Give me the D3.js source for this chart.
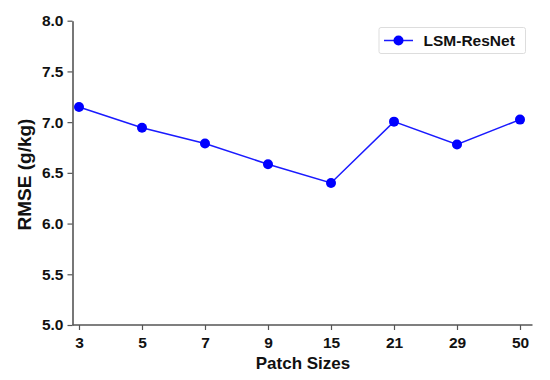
<!DOCTYPE html>
<html>
<head>
<meta charset="utf-8">
<script src="https://cdn.jsdelivr.net/npm/d3@7"></script>
<style>
html,body{margin:0;padding:0;background:#fff;}
svg{display:block;font-family:"Liberation Sans",Arial,sans-serif;}
</style>
</head>
<body>
<svg id="chart" width="550" height="380"></svg>
<script>
const patchSizes = ["3","5","7","9","15","21","29","50"];
const rmse = [7.15, 6.945, 6.79, 6.585, 6.40, 7.005, 6.78, 7.025];
const yTicks = [5.0, 5.5, 6.0, 6.5, 7.0, 7.5, 8.0];
const seriesName = "LSM-ResNet";

(function(){
const svg = d3.select("#chart");
const mLeft = 72.5, mRight = 532.5, mTop = 20.7, mBottom = 325;
const x = d3.scalePoint().domain(patchSizes).range([79, 520]);
const y = d3.scaleLinear().domain([5, 8]).range([mBottom, mTop]);
const axisColor = "#555";

// y axis
const gy = svg.append("g").attr("transform", `translate(${mLeft},0)`)
  .call(d3.axisLeft(y).tickValues(yTicks).tickFormat(d3.format(".1f")).tickSize(5).tickSizeOuter(0));
gy.select(".domain").attr("stroke", axisColor).attr("stroke-width", 1.6);
gy.selectAll(".tick line").attr("stroke", axisColor).attr("stroke-width", 1.2);
gy.selectAll(".tick text").attr("font-size", 15.5).attr("font-weight", "bold").attr("fill", "#111")
  .attr("font-family", "Liberation Sans, Arial, sans-serif").attr("x", -9);

// x axis
const gx = svg.append("g").attr("transform", `translate(0,${mBottom})`)
  .call(d3.axisBottom(x).tickSize(5).tickSizeOuter(0));
gx.select(".domain").attr("d", `M${mLeft},0H${mRight}`).attr("stroke", axisColor).attr("stroke-width", 1.6);
gx.selectAll(".tick line").attr("stroke", axisColor).attr("stroke-width", 1.2);
gx.selectAll(".tick text").attr("font-size", 15.5).attr("font-weight", "bold").attr("fill", "#111")
  .attr("font-family", "Liberation Sans, Arial, sans-serif").attr("y", 11.5);

// axis titles
svg.append("text").attr("x", 303).attr("y", 368.5).attr("text-anchor", "middle")
  .attr("font-size", 17).attr("font-weight", "bold").attr("fill", "#111").text("Patch Sizes");
svg.append("text").attr("transform", `translate(31,174.5) rotate(-90)`)
  .attr("text-anchor", "middle").attr("font-size", 19).attr("font-weight", "bold").attr("fill", "#111")
  .text("RMSE (g/kg)");

// line
const data = patchSizes.map((p, i) => ({p, v: rmse[i]}));
svg.append("path").datum(data)
  .attr("d", d3.line().x(d => x(d.p)).y(d => y(d.v)))
  .attr("fill", "none").attr("stroke", "#1a1aff").attr("stroke-width", 1.5);
svg.selectAll("circle.pt").data(data).enter().append("circle").attr("class", "pt")
  .attr("cx", d => x(d.p)).attr("cy", d => y(d.v)).attr("r", 5).attr("fill", "#0000ff");

// legend
const lg = svg.append("g");
lg.append("rect").attr("x", 379).attr("y", 27.5).attr("width", 146.5).attr("height", 26).attr("rx", 2)
  .attr("fill", "#fff").attr("stroke", "#ddd").attr("stroke-width", 1);
lg.append("line").attr("x1", 384).attr("x2", 413).attr("y1", 40.5).attr("y2", 40.5)
  .attr("stroke", "#1a1aff").attr("stroke-width", 1.5);
lg.append("circle").attr("cx", 398.5).attr("cy", 40.5).attr("r", 5).attr("fill", "#0000ff");
lg.append("text").attr("x", 423.5).attr("y", 46).attr("font-size", 15.5).attr("font-weight", "bold")
  .attr("fill", "#111").text(seriesName);
})();
</script>
</body>
</html>
